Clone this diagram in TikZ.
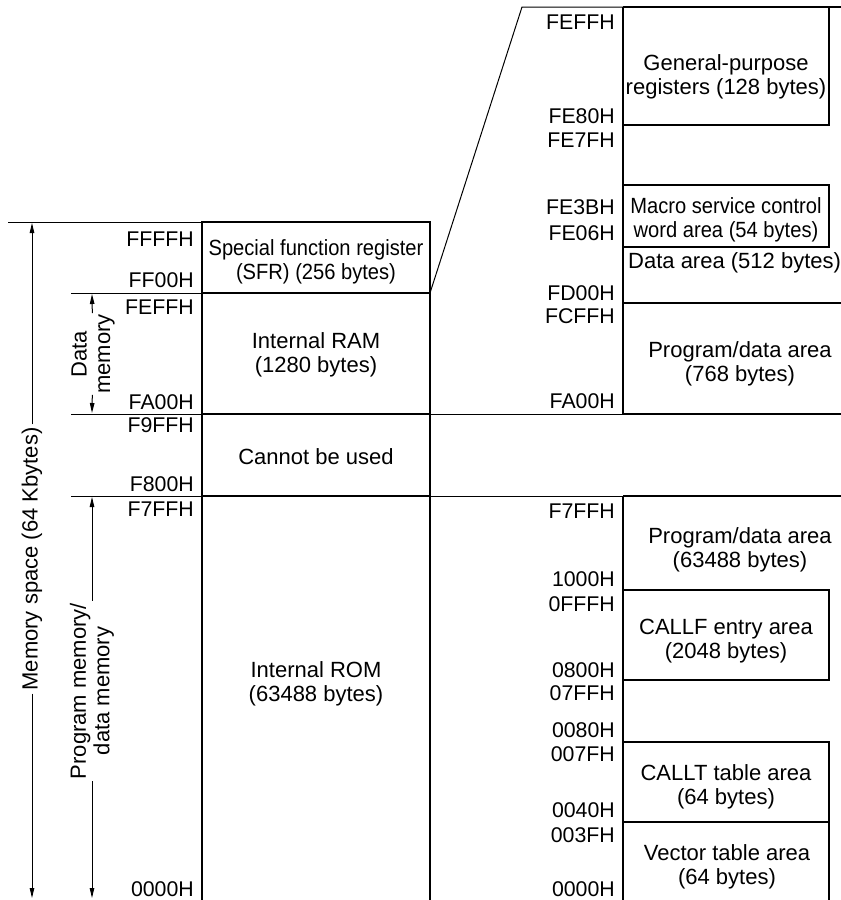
\documentclass[tikz,border=0pt]{standalone}
\usepackage{fontspec}
\setmainfont{Liberation Sans}
\newfontfamily\narrowfont[FakeStretch=0.915]{Liberation Sans}
\usetikzlibrary{arrows.meta}
\begin{document}
\begin{tikzpicture}[x=1pt,y=-1pt,
  thickln/.style={line width=2.2pt},
  thinln/.style={line width=1pt},
  arr/.style={line width=1pt,-{Triangle[length=10pt,width=4.5pt]}},
  addr/.style={anchor=base east,inner sep=0pt,font=\fontsize{21.3}{23.5}\selectfont},
  area/.style={align=center,inner sep=0pt,font=\fontsize{22}{23.5}\selectfont},
  narrowarea/.style={align=center,inner sep=0pt,font=\narrowfont\fontsize{22}{23.5}\selectfont},
  side/.style={align=center,rotate=90,inner xsep=3pt,inner ysep=0pt,font=\fontsize{22}{23.5}\selectfont}]
\useasboundingbox (0,0) rectangle (841,900);

% ---------- left column ----------
\draw[thickln] (202,900) -- (202,222) -- (430,222) -- (430,900);
\draw[thickln] (202,293) -- (430,293) (202,414) -- (430,414) (202,496) -- (430,496);
\draw[thinln] (8,222) -- (202,222);
\draw[thinln] (71,293) -- (202,293) (71,414) -- (202,414) (71,496) -- (202,496);
\draw[thinln] (430,414) -- (623,414) (430,496) -- (623,496);
\draw[thinln] (430,293) -- (522,7) -- (623,7);

% ---------- right column ----------
\draw[thickln] (623,7) -- (841,7);
\draw[thickln] (623,7) -- (623,414) (623,496) -- (623,900);
\draw[thickln] (623,125) -- (829,125) -- (829,7);
\draw[thickln] (623,185) rectangle (829,247);
\draw[thickln] (623,303) -- (841,303) (623,414) -- (841,414) (623,496) -- (841,496);
\draw[thickln] (623,590) rectangle (829,680);
\draw[thickln] (623,742) -- (829,742) -- (829,900) (623,822) -- (829,822);

% ---------- left addresses ----------
\node[addr] (lFFFF) at (194,246) {FFFFH};
\node[addr] (lFF00) at (194,287) {FF00H};
\node[addr] (lFEFF) at (194,314) {FEFFH};
\node[addr] (lFA00) at (194,409) {FA00H};
\node[addr] (lF9FF) at (194,432) {F9FFH};
\node[addr] (lF800) at (194,491) {F800H};
\node[addr] (lF7FF) at (194,516) {F7FFH};
\node[addr] (l0000) at (194,896) {0000H};

% ---------- right addresses ----------
\node[addr] (rFEFF) at (615,29) {FEFFH};
\node[addr] (rFE80) at (615,123) {FE80H};
\node[addr] (rFE7F) at (615,147) {FE7FH};
\node[addr] (rFE3B) at (615,214) {FE3BH};
\node[addr] (rFE06) at (615,240) {FE06H};
\node[addr] (rFD00) at (615,300) {FD00H};
\node[addr] (rFCFF) at (615,323) {FCFFH};
\node[addr] (rFA00) at (615,408) {FA00H};
\node[addr] (rF7FF) at (615,518) {F7FFH};
\node[addr] (r1000) at (615,586) {1000H};
\node[addr] (r0FFF) at (615,611) {0FFFH};
\node[addr] (r0800) at (615,677) {0800H};
\node[addr] (r07FF) at (615,700) {07FFH};
\node[addr] (r0080) at (615,737) {0080H};
\node[addr] (r007F) at (615,761) {007FH};
\node[addr] (r0040) at (615,817) {0040H};
\node[addr] (r003F) at (615,842) {003FH};
\node[addr] (r0000) at (615,896) {0000H};

% ---------- area texts ----------
\node[narrowarea] (sfr) at (316,262) {Special function register\\(SFR) (256 bytes)};
\node[area] (ram) at (316,355) {Internal RAM\\(1280 bytes)};
\node[area] (nouse) at (316,457) {Cannot be used};
\node[area] (rom) at (316,684) {Internal ROM\\(63488 bytes)};
\node[area] (gpr) at (726,77) {General-purpose\\registers (128 bytes)};
\node[narrowarea] (macro) at (726,220) {Macro service control\\word area (54 bytes)};
\node[area,anchor=base west] (data) at (628,268) {Data area (512 bytes)};
\node[area] (pd768) at (740,364) {Program/data area\\(768 bytes)};
\node[area] (pd63488) at (740,550) {Program/data area\\(63488 bytes)};
\node[area] (callf) at (726,641) {CALLF entry area\\(2048 bytes)};
\node[area] (callt) at (726,787) {CALLT table area\\(64 bytes)};
\node[area] (vect) at (727,867) {Vector table area\\(64 bytes)};

% ---------- side dimension arrows ----------
\node[side] (mspace) at (32,559) {Memory space (64 Kbytes)};
\coordinate (mstop) at (32,223);
\coordinate (msbot) at (32,898);
\draw[arr] (mspace) -- (mstop);
\draw[arr] (mspace) -- (msbot);

\node[side,inner xsep=1pt] (dmem) at (93,354) {Data\\memory};
\coordinate (dmtop) at (92,294);
\coordinate (dmbot) at (92,413);
\draw[arr] (dmem) -- (dmtop);
\draw[arr] (dmem) -- (dmbot);

\node[side,inner xsep=2pt] (pmem) at (92,691) {Program memory/\\data memory};
\coordinate (pmtop) at (92,497);
\coordinate (pmbot) at (92,898);
\draw[arr] (pmem) -- (pmtop);
\draw[arr] (pmem) -- (pmbot);
\end{tikzpicture}
\end{document}
